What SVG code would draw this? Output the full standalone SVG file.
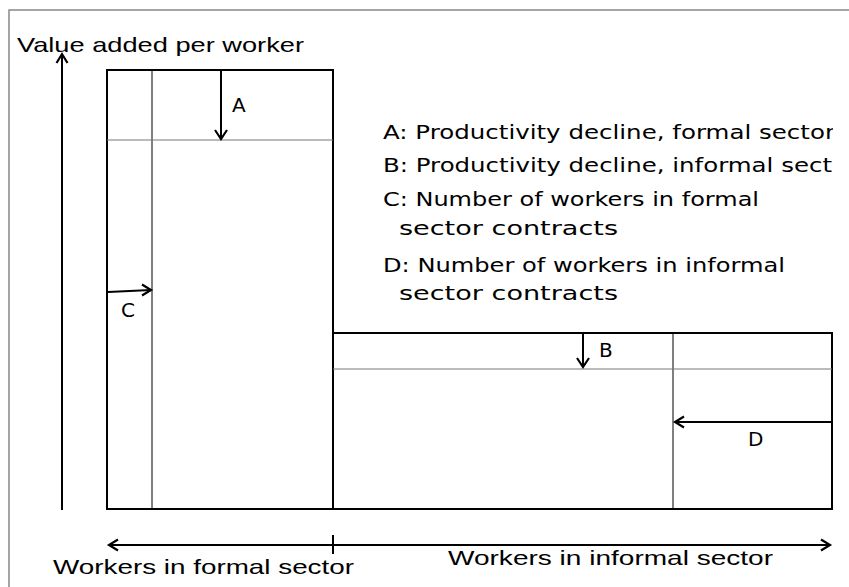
<svg xmlns="http://www.w3.org/2000/svg" width="849" height="587" viewBox="0 0 849 587">
<defs>
<style>
.box{fill:none;stroke:#000;stroke-width:2}
.thin{fill:none;stroke:#000;stroke-width:1}
.grey{fill:none;stroke:#777;stroke-width:1}
.arr{fill:none;stroke:#000;stroke-width:2}
.head{fill:none;stroke:#000;stroke-width:2.2;stroke-linejoin:miter}
.lbl{font-family:"DejaVu Sans",sans-serif;font-size:20px;fill:#000}
.leg{font-family:"DejaVu Sans",sans-serif;font-size:20px;fill:#000}
.ax{font-family:"Liberation Sans",Arial,sans-serif;font-size:21px;fill:#000}
</style>
<clipPath id="clipR"><rect x="0" y="0" width="833" height="587"/></clipPath>
</defs>
<rect width="849" height="587" fill="#fff"/>
<path d="M9,600 V10 H860" fill="none" stroke="#888" stroke-width="1.5"/>

<g id="formal-block">
<rect class="box" x="107" y="70" width="226" height="439"/>
<line class="thin" x1="152" y1="70" x2="152" y2="509"/>
<line class="grey" x1="107" y1="140" x2="333" y2="140"/>
</g>
<g id="informal-block">
<rect class="box" x="333" y="333" width="499" height="176"/>
<line class="thin" x1="673" y1="333" x2="673" y2="509"/>
<line class="grey" x1="333" y1="369" x2="832" y2="369"/>
</g>

<g id="connectors">
<line class="arr" x1="221" y1="70" x2="221" y2="139"/>
<path class="head" d="M215,130 L221,139 L227,130"/>
<line class="arr" x1="583" y1="333" x2="583" y2="367"/>
<path class="head" d="M577,358 L583,367 L589,358"/>
<line class="arr" x1="108" y1="292" x2="151" y2="290"/>
<path class="head" d="M142,284.5 L151,290 L142,295.5"/>
<line class="arr" x1="832" y1="422" x2="675" y2="422"/>
<path class="head" d="M684,416.5 L675,422 L684,427.5"/>
<line class="arr" x1="62" y1="510" x2="62" y2="54"/>
<path class="head" d="M56.5,63 L62,54 L67.5,63"/>
<line class="arr" x1="109" y1="545" x2="830" y2="545"/>
<path class="head" d="M118,539.5 L109,545 L118,550.5"/>
<path class="head" d="M821,539.5 L830,545 L821,550.5"/>
<line class="arr" x1="333" y1="535" x2="333" y2="554"/>
</g>

<g id="labels">
<text class="lbl" x="232" y="112">A</text>
<text class="lbl" x="599" y="357">B</text>
<text class="lbl" x="121" y="317">C</text>
<text class="lbl" x="748" y="446">D</text>
</g>

<g id="legend" clip-path="url(#clipR)">
<text class="leg" x="383" y="139" textLength="452" lengthAdjust="spacingAndGlyphs">A: Productivity decline, formal sector</text>
<text class="leg" x="383" y="172" textLength="474" lengthAdjust="spacingAndGlyphs">B: Productivity decline, informal sector</text>
<text class="leg" x="383" y="206" textLength="376" lengthAdjust="spacingAndGlyphs">C: Number of workers in formal</text>
<text class="leg" x="399" y="235" textLength="219" lengthAdjust="spacingAndGlyphs">sector contracts</text>
<text class="leg" x="383" y="272" textLength="402" lengthAdjust="spacingAndGlyphs">D: Number of workers in informal</text>
<text class="leg" x="399" y="300" textLength="219" lengthAdjust="spacingAndGlyphs">sector contracts</text>
</g>

<g id="axis-labels">
<text class="ax" x="17" y="52" textLength="287" lengthAdjust="spacingAndGlyphs">Value added per worker</text>
<text class="ax" x="53" y="574" textLength="301" lengthAdjust="spacingAndGlyphs">Workers in formal sector</text>
<text class="ax" x="448" y="565" textLength="325" lengthAdjust="spacingAndGlyphs">Workers in informal sector</text>
</g>
</svg>
